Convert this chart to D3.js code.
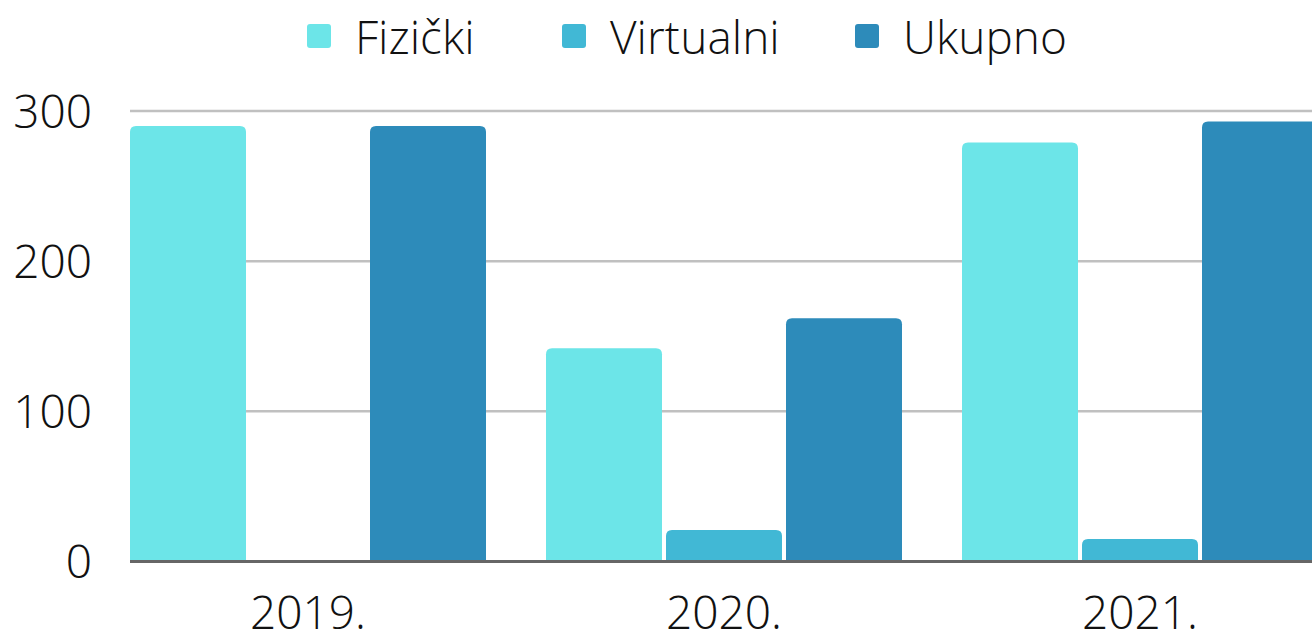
<!DOCTYPE html>
<html>
<head>
<meta charset="utf-8">
<script src="https://cdn.jsdelivr.net/npm/d3@7"></script>
<style>
  html, body { margin: 0; padding: 0; background: #fff; }
  svg { display: block; font-family: "Open Sans Light", "Open Sans", sans-serif; }
</style>
</head>
<body>
<div id="chart"></div>
<script>
// Data
const years = ["2019.", "2020.", "2021."];
const series = ["Fizički", "Virtualni", "Ukupno"];
const fizicki = [290, 142, 279];
const virtualni = [0, 21, 15];
const ukupno = [290, 162, 293];
const yTicks = [0, 100, 200, 300];
const colors = ["#6ce5e8", "#41b8d5", "#2d8bba"];

const width = 1312, height = 635;
const margin = { top: 111, left: 130, bottom: 73 };
const fontSize = 46;

const values = [fizicki, virtualni, ukupno];
const rows = years.map((yr, i) => ({ year: yr, vals: series.map((s, j) => ({ key: s, j, value: values[j][i] })) }));

const svg = d3.select("#chart").append("svg")
  .attr("width", width).attr("height", height);

const x0 = d3.scaleBand().domain(years)
  .range([margin.left, 1318])
  .paddingInner(60 / 416).paddingOuter(0);
const x1 = d3.scaleBand().domain(series)
  .range([0, x0.bandwidth()])
  .paddingInner(4 / 120).paddingOuter(0);
const y = d3.scaleLinear().domain([0, 300]).range([height - margin.bottom - 0.5, margin.top]);

// grid
svg.append("g").selectAll("line")
  .data(yTicks.filter(d => d > 0))
  .join("line")
  .attr("x1", margin.left).attr("x2", width)
  .attr("y1", d => y(d)).attr("y2", d => y(d))
  .attr("stroke", "#c0c0c0").attr("stroke-width", 2.5);

// y labels
svg.append("g").selectAll("text")
  .data(yTicks)
  .join("text")
  .attr("x", 92).attr("y", d => y(d))
  .attr("dy", "0.36em")
  .attr("text-anchor", "end")
  .attr("font-size", fontSize).attr("font-weight", 300)
  .attr("fill", "#111")
  .text(d => d);

// bars with rounded top corners
const r = 6;
const barPath = (x, w, top, bottom) => {
  const h = bottom - top;
  if (h <= 0) return "";
  const rr = Math.min(r, h, w / 2);
  return `M${x},${bottom}V${top + rr}Q${x},${top} ${x + rr},${top}H${x + w - rr}Q${x + w},${top} ${x + w},${top + rr}V${bottom}Z`;
};

svg.append("g").selectAll("g")
  .data(rows)
  .join("g")
  .attr("transform", d => `translate(${x0(d.year)},0)`)
  .selectAll("path")
  .data(d => d.vals)
  .join("path")
  .attr("fill", d => colors[d.j])
  .attr("d", d => barPath(x1(d.key), x1.bandwidth(), y(d.value), y(0)));

// baseline
svg.append("line")
  .attr("x1", margin.left).attr("x2", width)
  .attr("y1", y(0)).attr("y2", y(0))
  .attr("stroke", "#666").attr("stroke-width", 3);

// x labels
svg.append("g").selectAll("text")
  .data(years)
  .join("text")
  .attr("x", d => x0(d) + x0.bandwidth() / 2)
  .attr("y", 629)
  .attr("text-anchor", "middle")
  .attr("font-size", fontSize).attr("font-weight", 300)
  .attr("fill", "#111")
  .text(d => d);

// legend
const legendX = [307, 562, 855];
const legend = svg.append("g").selectAll("g")
  .data(series)
  .join("g")
  .attr("transform", (d, i) => `translate(${legendX[i]},0)`);
legend.append("rect")
  .attr("x", 0).attr("y", 24)
  .attr("width", 24).attr("height", 24)
  .attr("rx", 3)
  .attr("fill", (d, i) => colors[i]);
legend.append("text")
  .attr("x", 48).attr("y", 54)
  .attr("font-size", fontSize).attr("font-weight", 300)
  .attr("fill", "#111")
  .text(d => d);
</script>
</body>
</html>
